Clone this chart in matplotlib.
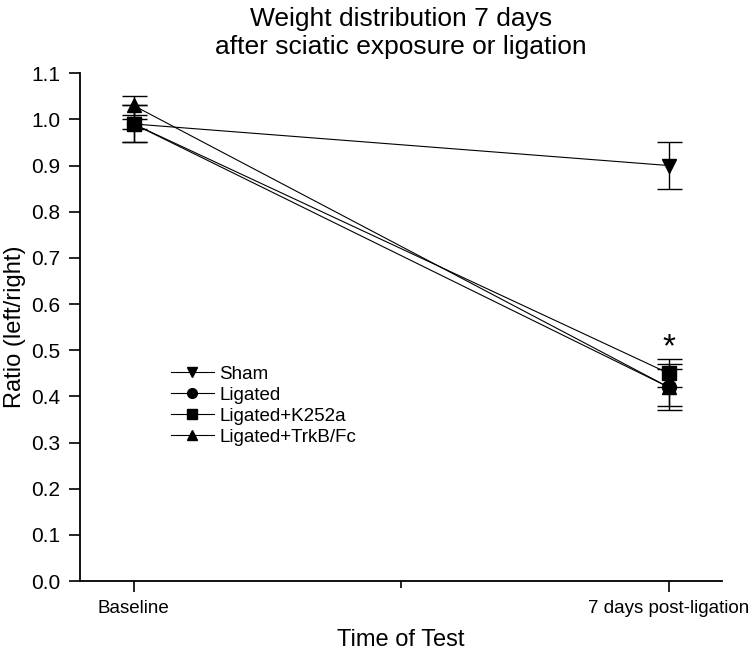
import matplotlib
matplotlib.use('Agg')
import matplotlib.pyplot as plt
from matplotlib.lines import Line2D

plt.rcParams['font.family'] = ['Liberation Sans', 'DejaVu Sans']

timepoints = ['Baseline', '7 days post-ligation']
groups = ['Sham', 'Ligated', 'Ligated+K252a', 'Ligated+TrkB/Fc']
markers = ['v', 'o', 's', '^']
means = {
    'Sham': [0.99, 0.90],
    'Ligated': [0.99, 0.42],
    'Ligated+K252a': [0.99, 0.45],
    'Ligated+TrkB/Fc': [1.03, 0.42],
}
errs = {
    'Sham': [0.04, 0.05],
    'Ligated': [0.04, 0.05],
    'Ligated+K252a': [0.01, 0.03],
    'Ligated+TrkB/Fc': [0.02, 0.04],
}

fig = plt.figure(figsize=(7.5, 6.54), dpi=100)
ax = fig.add_axes([0.1067, 0.1116, 0.856, 0.7765])

x = [0, 2]
for g, m in zip(groups, markers):
    ax.errorbar(x, means[g], yerr=errs[g], marker=m, color='black', markersize=10,
                linewidth=0.8, elinewidth=1.0, capsize=9, capthick=1.0)

ax.text(2, 0.505, '*', ha='center', va='center', fontsize=24)

ax.set_xlim(-0.2, 2.2)
ax.set_ylim(0, 1.1)
ax.set_xticks(x)
ax.set_xticklabels(timepoints, fontsize=13.5)
ax.set_xticks([1], minor=True)
ax.set_yticks([i / 10 for i in range(12)])
ax.set_yticklabels(['%.1f' % (i / 10) for i in range(12)], fontsize=15)
ax.tick_params(axis='both', which='major', direction='out', length=8, width=1.2, pad=6)
ax.tick_params(axis='x', which='minor', direction='out', length=5, width=1.2)
for s in ['top', 'right']:
    ax.spines[s].set_visible(False)
for s in ['left', 'bottom']:
    ax.spines[s].set_linewidth(1.3)

ax.set_xlabel('Time of Test', fontsize=17, labelpad=8)
ax.set_ylabel('Ratio (left/right)', fontsize=17, labelpad=4)
ax.set_title('Weight distribution 7 days\nafter sciatic exposure or ligation', fontsize=19, pad=14)

handles = [Line2D([0], [0], color='black', linewidth=0.8, marker=m, markersize=7)
           for m in markers]
ax.legend(handles, groups, loc='upper left', bbox_to_anchor=(0.115, 0.457), frameon=False,
          fontsize=13.5, handlelength=2.3, labelspacing=0.2, handletextpad=0.3)

plt.savefig('out.png')
